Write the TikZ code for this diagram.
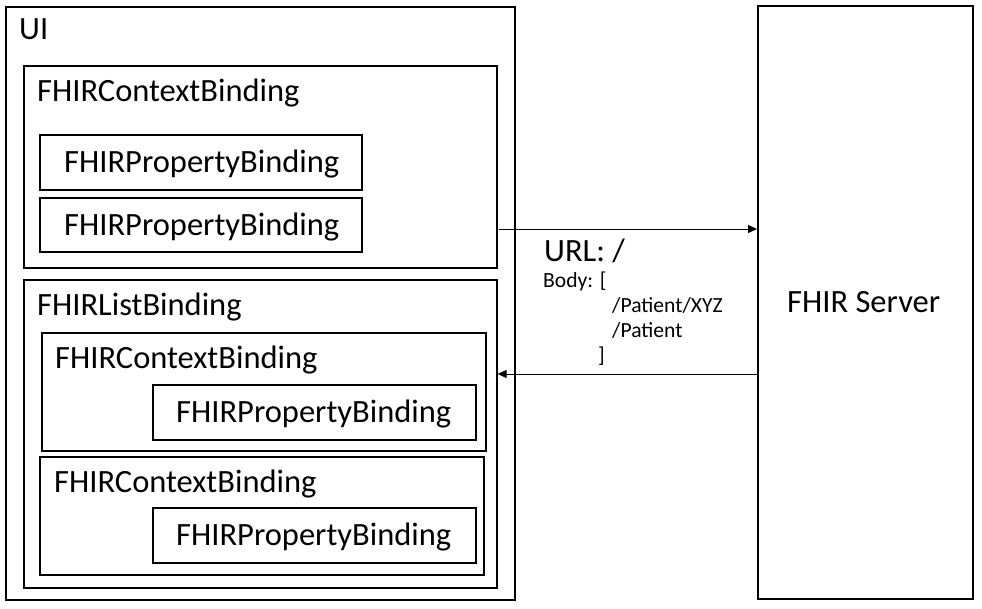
\documentclass[tikz,border=0pt]{standalone}
\usepackage{fontspec}
\setmainfont{Carlito}
\usetikzlibrary{arrows.meta}
\begin{document}
\begin{tikzpicture}[x=1pt,y=-1pt,
  box/.style={draw=black, line width=1.6pt, fill=none, inner sep=0pt, anchor=north west},
  big/.style={font=\fontsize{32.5}{38}\selectfont, inner sep=0pt, anchor=base west},
  small/.style={font=\fontsize{21.6}{26}\selectfont, inner sep=0pt, anchor=base west},
  conn/.style={line width=1pt, -{Triangle[length=9pt,width=8pt]}}]
\useasboundingbox (0,0) rectangle (982,608);
% containers
\node[box, minimum width=509pt, minimum height=593pt] (ui) at (5,6) {};
\node[box, minimum width=473pt, minimum height=202pt] (ctxA) at (23,65) {};
\node[box, minimum width=322pt, minimum height=55pt] (propA) at (39,134) {};
\node[box, minimum width=322pt, minimum height=54pt] (propB) at (39,197) {};
\node[box, minimum width=473pt, minimum height=308pt] (list) at (23,279) {};
\node[box, minimum width=444pt, minimum height=118pt] (ctxB) at (41,332) {};
\node[box, minimum width=323pt, minimum height=55pt] (propC) at (152,384) {};
\node[box, minimum width=444pt, minimum height=118pt] (ctxC) at (39,456) {};
\node[box, minimum width=323pt, minimum height=55pt] (propD) at (152,507) {};
\node[box, minimum width=215pt, minimum height=593pt] (server) at (757,5) {};
% labels
\node[big] (tUI) at (19,39) {UI};
\node[big] (tctxA) at (37,101) {FHIRContextBinding};
\node[big] (tpropA) at (64,172) {FHIRPropertyBinding};
\node[big] (tpropB) at (64,235) {FHIRPropertyBinding};
\node[big] (tlist) at (37,315) {FHIRListBinding};
\node[big] (tctxB) at (55,368) {FHIRContextBinding};
\node[big] (tpropC) at (176,422) {FHIRPropertyBinding};
\node[big] (tctxC) at (54,492) {FHIRContextBinding};
\node[big] (tpropD) at (176,545) {FHIRPropertyBinding};
\node[big] (tserver) at (787,312) {FHIR Server};
\node[big] (turl) at (544,261) {URL: /};
\node[small] (tbody) at (543,287) {Body: [};
\node[small] (tp1) at (612,312) {/Patient/XYZ};
\node[small] (tp2) at (612,337) {/Patient};
\node[small] (tbr) at (598,362) {]};
% connectors
\coordinate (aS) at (499,229);
\draw[conn] (aS) -- (server.west |- aS);
\coordinate (bS) at (757,374);
\draw[conn] (server.west |- bS) -- (list.east |- bS);
\end{tikzpicture}
\end{document}
